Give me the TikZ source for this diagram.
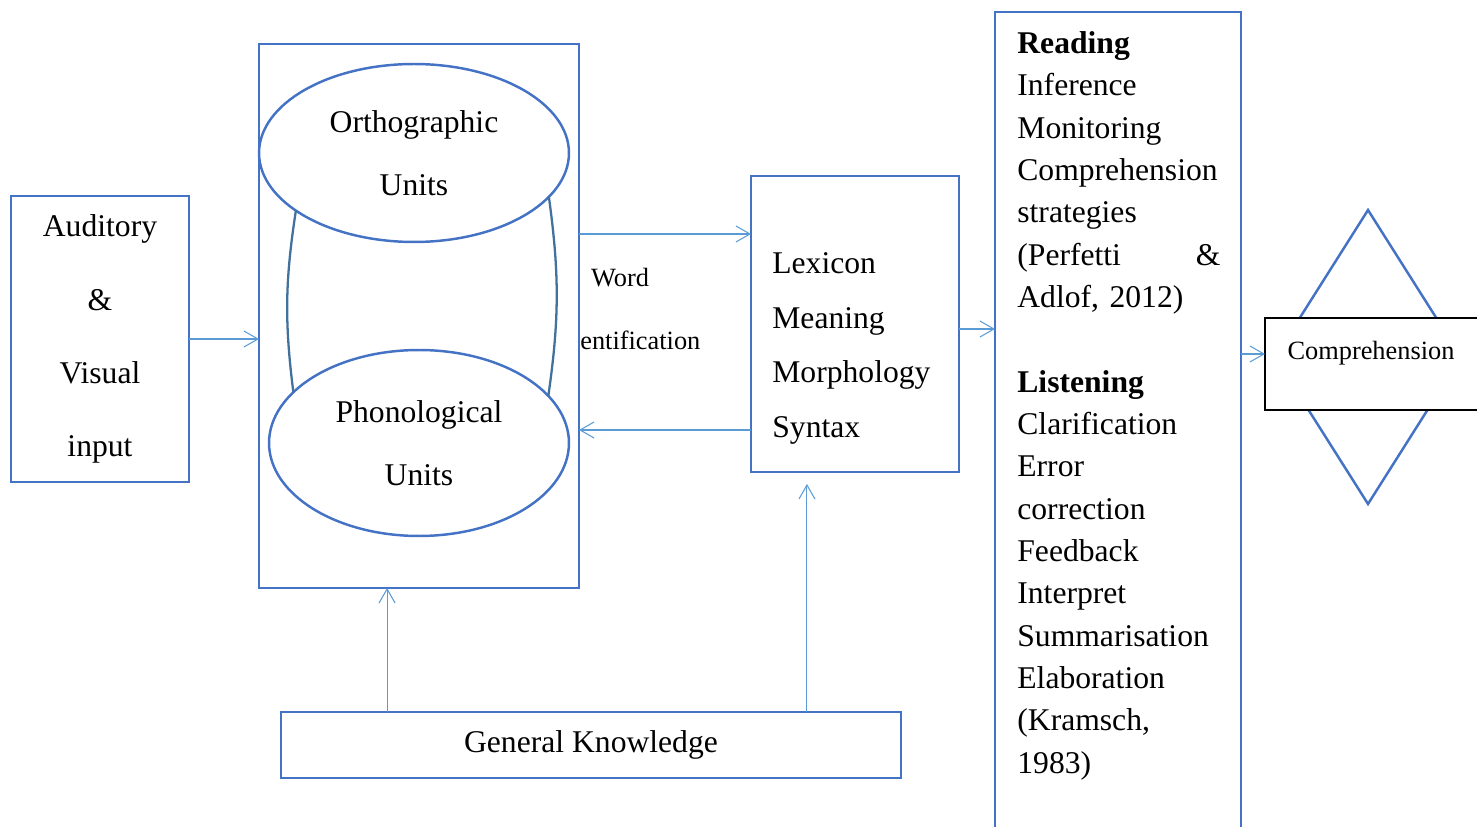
\documentclass[tikz,border=0pt]{standalone}
\usepackage{fontspec}
\setmainfont{Liberation Serif}
\usepackage{tikz}
\usetikzlibrary{arrows.meta}
\usetikzlibrary{shapes.geometric}
\definecolor{boxblue}{HTML}{4472C4}
\definecolor{arrowblue}{HTML}{5B9BD5}
\definecolor{linkblue}{HTML}{41719C}
\tikzset{
	boxstyle/.style={rectangle,draw=boxblue,line width=1.4pt,inner sep=0pt,outer sep=0pt,align=center},
	unitstyle/.style={ellipse,draw=boxblue,line width=1.4pt,inner sep=0pt,outer sep=0pt,align=center,font=\fontsize{18}{36}\selectfont},
	linkstyle/.style={draw=linkblue,line width=1.3pt},
	arrowstyle/.style={draw=arrowblue,line width=0.6pt,-{Straight Barb[length=2.8mm,width=3.2mm]}},
	textstyle/.style={align=left,inner sep=0pt,anchor=north west},
	diamondstyle/.style={diamond,draw=boxblue,line width=1.4pt,inner sep=0pt,outer sep=0pt,minimum width=3.72cm,minimum height=5.88cm}
}

\begin{document}
\begin{tikzpicture}[x=0.02cm,y=0.02cm]
	\fontsize{18}{24}\selectfont
	\useasboundingbox (0,0) rectangle (1477,-827);
	\node[diamondstyle] (diam) at (1368,-357) {};
	\node[boxstyle,minimum width=3.56cm,minimum height=5.72cm,font=\fontsize{18}{41.6}\selectfont] (audio) at (100,-339) {Auditory\\\&\\Visual\\input};
	\node[boxstyle,minimum width=6.4cm,minimum height=10.88cm] (units) at (419,-316) {};
	\node[unitstyle,minimum width=6.2cm,minimum height=3.56cm] (ortho) at (414,-153) {Orthographic\\Units};
	\node[unitstyle,minimum width=6.0cm,minimum height=3.72cm] (phono) at (419,-443) {Phonological\\Units};
	\draw[linkstyle] (ortho.206) to[bend right=8] (phono.158);
	\draw[linkstyle] (ortho.342) to[bend left=8] (phono.20);
	\node[font=\fontsize{15}{18}\selectfont] (wordtop) at (620,-278) {Word};
	\node[font=\fontsize{15}{18}\selectfont,anchor=west,inner sep=0pt] (wordbot) at (580,-340) {entification};
	\node[boxstyle,minimum width=4.16cm,minimum height=5.92cm] (lex) at (855,-324) {};
	\node[textstyle,font=\fontsize{18}{31.2}\selectfont] (lextext) at ([xshift=0.42cm,yshift=-1.52cm]lex.north west) {Lexicon\\Meaning\\Morphology\\Syntax};
	\node[boxstyle,minimum width=4.92cm,minimum height=16.96cm] (read) at (1118,-436) {};
	\node[textstyle,text width=4.06cm,font=\fontsize{18}{24.1}\selectfont] (readtext) at ([xshift=0.44cm,yshift=-0.38cm]read.north west) {\textbf{Reading}\\Inference\\Monitoring\\Comprehension\\strategies\\(Perfetti\hfill\&\\Adlof, 2012)\\\mbox{}\\\textbf{Listening}\\Clarification\\Error\\correction\\Feedback\\Interpret\\Summarisation\\Elaboration\\(Kramsch,\\1983)};
	\node[rectangle,draw=black,fill=white,line width=1pt,inner sep=0pt,outer sep=0pt,minimum width=4.7cm,minimum height=1.84cm] (comp) at (1382.5,-364) {};
	\node[font=\fontsize{15}{18}\selectfont] (comptext) at ([xshift=-0.23cm,yshift=0.22cm]comp.center) {Comprehension};
	\node[boxstyle,minimum width=12.4cm,minimum height=1.32cm] (gk) at (591,-745) {General Knowledge};
	\draw[arrowstyle] (audio.east) -- (audio.east -| units.west);
	\draw[arrowstyle] ([yshift=1.64cm]units.east) -- ([yshift=1.64cm]units.east -| lex.west);
	\draw[arrowstyle] ([yshift=-2.12cm]lex.west) -- ([yshift=-2.12cm]lex.west -| units.east);
	\draw[arrowstyle] ([yshift=-0.1cm]lex.east) -- ([yshift=-0.1cm]lex.east -| read.west);
	\draw[arrowstyle] ([yshift=0.2cm]comp.west -| read.east) -- ([yshift=0.2cm]comp.west);
	\draw[arrowstyle] ([xshift=-4.08cm]gk.north) -- ([xshift=-4.08cm]gk.north |- units.south);
	\draw[arrowstyle,shorten >=0.24cm] ([xshift=4.32cm]gk.north) -- ([xshift=4.32cm]gk.north |- lex.south);
\end{tikzpicture}
\end{document}
